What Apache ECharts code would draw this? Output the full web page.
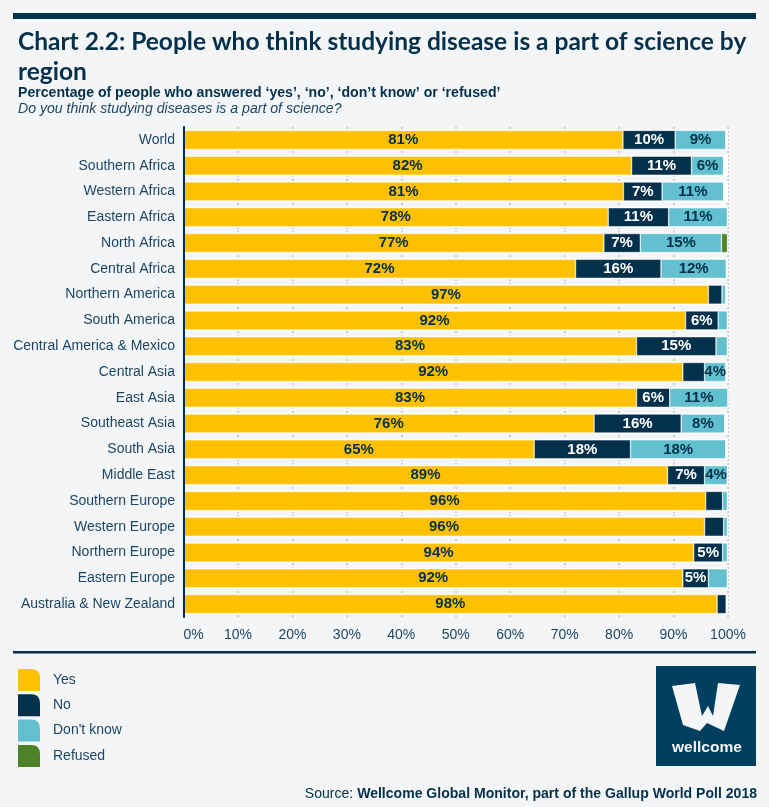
<!DOCTYPE html>
<html>
<head>
<meta charset="utf-8">
<style>
  html, body { margin: 0; padding: 0; background: #f3f5f7; }
  #chart { width: 769px; height: 807px; }
</style>
<script src="https://cdn.jsdelivr.net/npm/echarts@6/dist/echarts.min.js"></script>
</head>
<body>
<div id="chart"></div>
<script>
var regions = ['World', 'Southern Africa', 'Western Africa', 'Eastern Africa', 'North Africa', 'Central Africa',
  'Northern America', 'South America', 'Central America & Mexico', 'Central Asia', 'East Asia', 'Southeast Asia',
  'South Asia', 'Middle East', 'Southern Europe', 'Western Europe', 'Northern Europe', 'Eastern Europe',
  'Australia & New Zealand'];

var yesValues = [80.7, 82.3, 80.8, 78.0, 77.2, 72.0, 96.4, 92.2, 83.2, 91.7, 83.2, 75.4, 64.4, 88.9, 95.9, 95.7, 93.7, 91.7, 98.0];
var noValues = [9.6, 11.0, 7.1, 11.1, 6.7, 15.7, 2.5, 6.0, 14.6, 4.0, 6.1, 16.0, 17.7, 6.8, 3.1, 3.5, 5.3, 4.7, 1.7];
var dontKnowValues = [9.3, 5.9, 11.3, 10.8, 14.9, 12.0, 0.7, 1.7, 2.1, 3.9, 10.7, 8.0, 17.5, 4.2, 0.9, 0.7, 0.9, 3.5, 0];
var refusedValues = [0, 0, 0, 0, 1.1, 0, 0, 0, 0, 0, 0, 0, 0, 0, 0, 0, 0, 0, 0];

// white strip behind each row, full width of the axis
var rowBand = [100, 100, 100, 100, 100, 100, 100, 100, 100, 100, 100, 100, 100, 100, 100, 100, 100, 100, 100];

// printed labels, null where the source leaves the segment unlabelled
var yesLabels = [81, 82, 81, 78, 77, 72, 97, 92, 83, 92, 83, 76, 65, 89, 96, 96, 94, 92, 98];
var noLabels = [10, 11, 7, 11, 7, 16, null, 6, 15, null, 6, 16, 18, 7, null, null, 5, 5, null];
var dontKnowLabels = [9, 6, 11, 11, 15, 12, null, null, null, 4, 11, 8, 18, 4, null, null, null, null, null];

var xTicks = [0, 10, 20, 30, 40, 50, 60, 70, 80, 90, 100];

var dark = '#03304a';
var textColor = '#1d4664';
var swatch = 'path://M0,0 L60,0 Q100,0 100,40 L100,100 L0,100 Z';

function barSeries(name, color, values, labels, labelColor) {
  return {
    name: name,
    type: 'bar',
    stack: 'total',
    barWidth: 19,
    data: values,
    itemStyle: { color: color, borderColor: '#ffffff', borderWidth: 0.5 },
    label: {
      show: !!labels,
      position: 'inside',
      color: labelColor,
      fontFamily: 'Liberation Sans',
      fontWeight: 'bold',
      fontSize: 15,
      formatter: function (p) {
        var v = labels[p.dataIndex];
        return v === null ? '' : v + '%';
      }
    }
  };
}

var chart = echarts.init(document.getElementById('chart'), null, { renderer: 'canvas' });
chart.setOption({
  backgroundColor: '#f3f5f7',
  animation: false,
  textStyle: { fontFamily: 'Liberation Sans' },
  title: [
    { text: 'Chart 2.2: People who think studying disease is a part of science by', left: 18, top: 30, padding: 0,
      textStyle: { color: dark, fontFamily: 'Lato', fontWeight: 'bold', fontSize: 24.5 } },
    { text: 'region', left: 18, top: 60, padding: 0,
      textStyle: { color: dark, fontFamily: 'Lato', fontWeight: 'bold', fontSize: 24.5 } },
    { text: 'Percentage of people who answered ‘yes’, ‘no’, ‘don’t know’ or ‘refused’', left: 18, top: 86, padding: 0,
      textStyle: { color: dark, fontFamily: 'Liberation Sans', fontWeight: 'bold', fontSize: 14.1 } },
    { text: 'Do you think studying diseases is a part of science?', left: 18, top: 102, padding: 0,
      textStyle: { color: textColor, fontFamily: 'Liberation Sans', fontStyle: 'italic', fontWeight: 'normal', fontSize: 14.1 } }
  ],
  legend: {
    orient: 'vertical',
    left: 18,
    top: 669,
    padding: 0,
    itemWidth: 22,
    itemHeight: 22,
    itemGap: 3.3,
    icon: swatch,
    itemStyle: { borderWidth: 0 },
    data: ['Yes', 'No', "Don't know", 'Refused'],
    textStyle: { color: textColor, fontFamily: 'Liberation Sans', fontSize: 14, padding: [0, 0, 6, 8] }
  },
  grid: { left: 183.5, right: 41, top: 127, bottom: 190, containLabel: false },
  xAxis: {
    type: 'value',
    min: 0,
    max: 100,
    interval: 10,
    axisLine: { show: false },
    axisTick: { show: false },
    axisLabel: {
      color: textColor,
      fontSize: 14,
      margin: 11,
      alignMinLabel: 'left',
      customValues: xTicks,
      formatter: '{value}%'
    },
    splitLine: { show: true, lineStyle: { color: '#bdc1c5', width: 1.5, type: [2, 2] } }
  },
  yAxis: [
    {
      type: 'category',
      inverse: true,
      z: 5,
      data: regions,
      axisLine: { show: true, lineStyle: { color: dark, width: 2 } },
      axisTick: { show: false },
      axisLabel: { color: textColor, fontSize: 14, margin: 8.5 }
    },
    // second hidden axis so the row strip gets its own bar width
    { type: 'category', inverse: true, show: false, data: regions }
  ],
  series: [
    { name: 'band', type: 'bar', yAxisIndex: 1, barWidth: 21, silent: true, data: rowBand, itemStyle: { color: '#ffffff' } },
    barSeries('Yes', '#ffc000', yesValues, yesLabels, dark),
    barSeries('No', dark, noValues, noLabels, '#ffffff'),
    barSeries("Don't know", '#62c0cf', dontKnowValues, dontKnowLabels, dark),
    barSeries('Refused', '#4e8229', refusedValues, null, dark)
  ],
  graphic: [
    { type: 'rect', shape: { x: 13, y: 13, width: 743, height: 6 }, style: { fill: dark } },
    { type: 'rect', shape: { x: 13, y: 651, width: 743, height: 2.5 }, style: { fill: dark } },
    { type: 'rect', shape: { x: 656, y: 666, width: 100, height: 100 }, style: { fill: '#003f5f' } },
    { type: 'polygon', shape: { points: [[672, 686], [695, 683], [702, 716], [708, 706], [713, 716], [718, 683], [740, 685], [724, 731], [707, 723], [700, 731], [683, 725]] },
      style: { fill: '#f3f5f7' } },
    { type: 'text', left: 672, top: 740,
      style: { text: 'wellcome', fill: '#f3f5f7', font: 'bold 15.5px "Liberation Sans"' } },
    { type: 'text', right: 12, top: 787,
      style: {
        text: '{a|Source: }{b|Wellcome Global Monitor, part of the Gallup World Poll 2018}',
        rich: {
          a: { fill: dark, font: '14.06px "Liberation Sans"' },
          b: { fill: dark, font: 'bold 14.06px "Liberation Sans"' }
        }
      } }
  ]
});
</script>
</body>
</html>
